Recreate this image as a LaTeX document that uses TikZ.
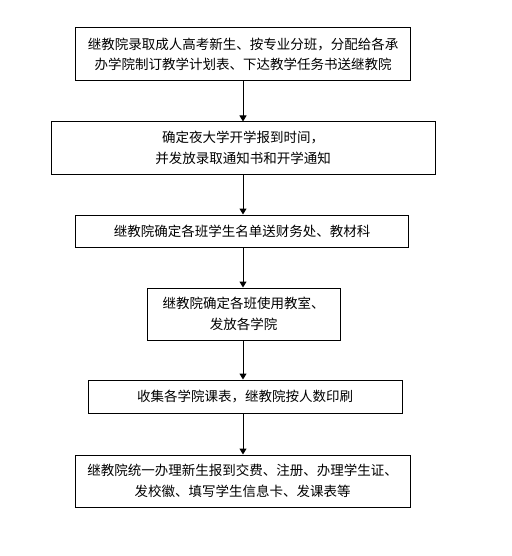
\documentclass[tikz,border=0pt]{standalone}
\usepackage{fontspec}
\newfontfamily\cjk{Noto Sans CJK SC}
\usetikzlibrary{arrows.meta}
\begin{document}
\begin{tikzpicture}[x=1pt,y=-1pt,
  flowbox/.style={draw=black,line width=1pt,fill=white,inner sep=0pt,align=center,
    font=\cjk\fontsize{13.5}{20.5}\selectfont},
  flowarrow/.style={draw=black,line width=1pt,-{Triangle[width=7pt,length=6pt]}}]
\useasboundingbox[fill=white] (0,0) rectangle (511,556);
\node[flowbox,minimum width=335pt,minimum height=53pt] (b1) at (243,54.5)
  {继教院录取成人高考新生、按专业分班，分配给各承\\办学院制订教学计划表、下达教学任务书送继教院};
\node[flowbox,minimum width=384pt,minimum height=52pt] (b2) at (243,148)
  {确定夜大学开学报到时间，\\并发放录取通知书和开学通知};
\node[flowbox,minimum width=333pt,minimum height=32pt] (b3) at (242,231)
  {继教院确定各班学生名单送财务处、教材科};
\node[flowbox,minimum width=193pt,minimum height=52pt] (b4) at (243.5,314)
  {继教院确定各班使用教室、\\发放各学院};
\node[flowbox,minimum width=314pt,minimum height=33pt] (b5) at (245,396.5)
  {收集各学院课表，继教院按人数印刷};
\node[flowbox,minimum width=335pt,minimum height=52pt] (b6) at (242.5,481)
  {继教院统一办理新生报到交费、注册、办理学生证、\\发校徽、填写学生信息卡、发课表等};
\coordinate (ax) at (243,0);
\draw[flowarrow] (b1.south -| ax) -- (b2.north -| ax);
\draw[flowarrow] (b2.south -| ax) -- (b3.north -| ax);
\draw[flowarrow] (b3.south -| ax) -- (b4.north -| ax);
\draw[flowarrow] (b4.south -| ax) -- (b5.north -| ax);
\draw[flowarrow] (b5.south -| ax) -- (b6.north -| ax);
\end{tikzpicture}
\end{document}
